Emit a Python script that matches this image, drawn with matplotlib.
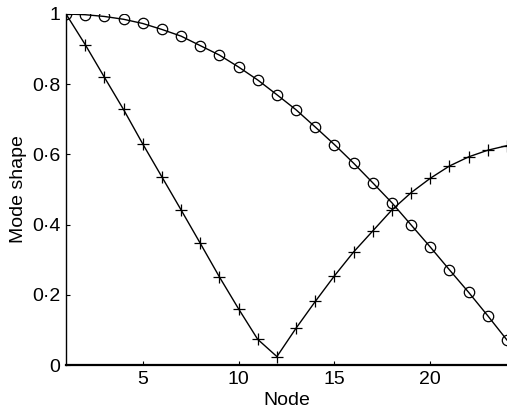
import matplotlib
matplotlib.use("Agg")
import matplotlib.pyplot as plt
from matplotlib.ticker import FixedLocator, FuncFormatter

plt.rcParams['font.family'] = ['Liberation Sans', 'DejaVu Sans']

nodes = list(range(1, 25))

# Mode shape amplitudes per node
mode_circle = [1.000, 0.998, 0.993, 0.985, 0.973, 0.956, 0.937, 0.910,
               0.883, 0.849, 0.812, 0.770, 0.727, 0.678, 0.628, 0.575,
               0.519, 0.462, 0.399, 0.336, 0.271, 0.207, 0.140, 0.071]
mode_plus = [1.000, 0.913, 0.820, 0.728, 0.630, 0.536, 0.442, 0.347,
             0.251, 0.160, 0.073, 0.024, 0.105, 0.181, 0.254, 0.322,
             0.382, 0.442, 0.491, 0.532, 0.567, 0.593, 0.612, 0.625]

x_ticks = [5, 10, 15, 20]
y_ticks = [0, 0.2, 0.4, 0.6, 0.8, 1]

fig = plt.figure(figsize=(5.07, 4.13), dpi=100)
ax = fig.add_axes([66 / 507, 48 / 413, 441 / 507, 351 / 413])

ax.plot(nodes, mode_circle, color='black', lw=1.0, marker='o', ms=7.5,
        mfc='none', mec='black', mew=0.9)
ax.plot(nodes, mode_plus, color='black', lw=1.0, marker='+', ms=8,
        mew=0.9)

ax.set_xlim(1, 24)
ax.set_ylim(0, 1)
ax.xaxis.set_major_locator(FixedLocator(x_ticks))
ax.yaxis.set_major_locator(FixedLocator(y_ticks))


def dot_fmt(v, pos):
    if abs(v) < 1e-9:
        return '0'
    if abs(v - 1) < 1e-9:
        return '1'
    return f'{v:.1f}'.replace('.', '\u00b7')


ax.yaxis.set_major_formatter(FuncFormatter(dot_fmt))
ax.tick_params(direction='in', length=3, width=0.8, labelsize=14, pad=4)

for side in ('top', 'right'):
    ax.spines[side].set_visible(False)
ax.spines['left'].set_linewidth(1.0)
ax.spines['bottom'].set_linewidth(1.6)

ax.set_xlabel('Node', fontsize=14, labelpad=3)
ax.set_ylabel('Mode shape', fontsize=14, labelpad=4)

fig.savefig('out.png', dpi=100)
